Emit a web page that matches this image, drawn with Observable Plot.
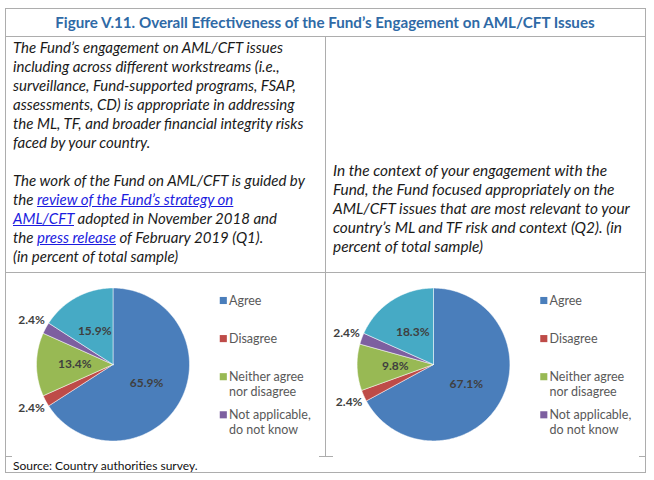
<!DOCTYPE html>
<html>
<head>
<meta charset="utf-8">
<script src="https://cdn.jsdelivr.net/npm/d3@7"></script>
<script src="https://cdn.jsdelivr.net/npm/@observablehq/plot@0.6"></script>
<style>
  html, body { margin: 0; padding: 0; background: #fff; }
  #fig { position: relative; width: 654px; height: 480px; font-family: Lato, "Open Sans", sans-serif; color: #111; overflow: hidden; }
  .ln { position: absolute; background: #ADADAD; z-index: 5; }
  .txt { position: absolute; white-space: nowrap; }
  #title { left: 5px; width: 640px; top: 9px; height: 27px; line-height: 27px; text-align: center; font-weight: bold; color: #2F6AA6; font-size: 15.5px; }
  .para { font-style: italic; line-height: 19px; font-size: 14.5px; color: #1a1a1a; }
  .para a { color: #1c1ce0; text-decoration: underline; }
  #src { left: 13px; top: 458px; font-size: 12px; line-height: 16px; color: #111; }
  .pie { position: absolute; top: 272px; }
</style>
</head>
<body>
<div id="fig">
  <div class="ln" style="left:5px;top:8px;width:641px;height:1px"></div>
  <div class="ln" style="left:5px;top:472px;width:641px;height:1px"></div>
  <div class="ln" style="left:5px;top:8px;width:1px;height:465px"></div>
  <div class="ln" style="left:645px;top:8px;width:1px;height:465px"></div>
  <div class="ln" style="left:5px;top:36px;width:641px;height:1px"></div>
  <div class="ln" style="left:5px;top:272px;width:641px;height:1px"></div>
  <div class="ln" style="left:325px;top:36px;width:1px;height:421px"></div>
  <div class="ln" style="left:5px;top:456px;width:7px;height:1px"></div>
  <div class="ln" style="left:319px;top:456px;width:14px;height:1px"></div>
  <div class="ln" style="left:639px;top:456px;width:7px;height:1px"></div>

  <div id="title" class="txt"><span id="titleSpan"></span></div>
  <div id="p1" class="txt para" style="left:13px;top:38px"></div>
  <div id="p2" class="txt para" style="left:333px;top:161px"></div>
  <div id="src" class="txt"></div>
  <div id="pie1" class="pie" style="left:0px"></div>
  <div id="pie2" class="pie" style="left:325px"></div>
</div>
<script>
// ---------- data ----------
const titleText = "Figure V.11. Overall Effectiveness of the Fund’s Engagement on AML/CFT Issues";
const sourceText = "Source: Country authorities survey.";
const q1Html = [
  "The Fund’s engagement on AML/CFT issues",
  "including across different workstreams (i.e.,",
  "surveillance, Fund-supported programs, FSAP,",
  "assessments, CD) is appropriate in addressing",
  "the ML, TF, and broader financial integrity risks",
  "faced by your country.",
  "",
  "The work of the Fund on AML/CFT is guided by",
  "the <a>review of the Fund’s strategy on</a>",
  "<a>AML/CFT</a> adopted in November 2018 and",
  "the <a>press release</a> of February 2019 (Q1).",
  "(in percent of total sample)"
];
const q2Lines = [
  "In the context of your engagement with the",
  "Fund, the Fund focused appropriately on the",
  "AML/CFT issues that are most relevant to your",
  "country’s ML and TF risk and context (Q2). (in",
  "percent of total sample)"
];
const categories = ["Agree", "Disagree", "Neither agree nor disagree", "Not applicable, do not know", "Unlabelled"];
const legendLabels = [["Agree"], ["Disagree"], ["Neither agree", "nor disagree"], ["Not applicable,", "do not know"]];
const q1Values = [65.9, 2.4, 13.4, 2.4, 15.9];
const q2Values = [67.1, 2.4, 9.8, 2.4, 18.3];
const colors = ["#4A7EBB", "#BE4B48", "#98B954", "#7D5FA0", "#46AAC5"];

// ---------- text ----------
document.getElementById("titleSpan").textContent = titleText;
document.getElementById("src").textContent = sourceText;
document.getElementById("p1").innerHTML = q1Html.map(s => s === "" ? "&nbsp;" : s).join("<br>");
document.getElementById("p2").innerHTML = q2Lines.join("<br>");

function fitPara(id, target) {
  const el = document.getElementById(id);
  const fs = parseFloat(getComputedStyle(el).fontSize);
  const lines = el.innerHTML.split("<br>");
  let maxW = 0;
  const tmp = document.createElement("div");
  tmp.className = el.className;
  tmp.style.position = "absolute"; tmp.style.visibility = "hidden";
  tmp.style.fontSize = fs + "px";
  document.body.appendChild(tmp);
  for (const l of lines) { tmp.innerHTML = l; maxW = Math.max(maxW, tmp.getBoundingClientRect().width); }
  tmp.remove();
  el.style.fontSize = (fs * target / maxW) + "px";
}
function fitTitle(target) {
  const el = document.getElementById("title");
  const sp = document.getElementById("titleSpan");
  const fs = parseFloat(getComputedStyle(el).fontSize);
  const w = sp.getBoundingClientRect().width;
  el.style.fontSize = (fs * target / w) + "px";
}

// ---------- pies ----------
function pieChart(values, W, H, cx, cy, r, legX, textX) {
  const arcs = d3.pie().sort(null).value(d => d)(values);
  const slices = [];
  arcs.forEach((a, i) => {
    const n = Math.max(2, Math.ceil((a.endAngle - a.startAngle) / (Math.PI / 180)));
    slices.push({k: i, cat: categories[i], x: cx, y: cy});
    for (let j = 0; j <= n; j++) {
      const t = a.startAngle + (a.endAngle - a.startAngle) * j / n;
      slices.push({k: i, cat: categories[i], x: cx + r * Math.sin(t), y: cy - r * Math.cos(t)});
    }
    slices.push({k: i, cat: categories[i], x: cx, y: cy});
  });
  const labels = arcs.map((a, i) => {
    const m = (a.startAngle + a.endAngle) / 2;
    const f = values[i] < 5 ? 1.21 : 0.5;
    return {x: cx + f * r * Math.sin(m), y: cy - f * r * Math.cos(m), text: values[i].toFixed(1) + "%"};
  });
  const legend = [];
  const legendText = [];
  legendLabels.forEach((lines, i) => {
    const y0 = 28 + i * 38.1;
    legend.push({cat: categories[i], x: legX, y: y0});
    lines.forEach((t, j) => legendText.push({x: textX, y: y0 + j * 15.2, text: t}));
  });
  return Plot.plot({
    width: W, height: H, margin: 0,
    style: {background: "transparent", fontFamily: "Lato, sans-serif", overflow: "visible"},
    x: {domain: [0, W], range: [0, W], axis: null},
    y: {domain: [0, H], range: [0, H], axis: null},
    color: {type: "ordinal", domain: categories, range: colors},
    marks: [
      Plot.line(slices, {x: "x", y: "y", z: "k", fill: "cat", stroke: "white", strokeWidth: 0.5, curve: "linear"}),
      Plot.text(labels, {x: "x", y: "y", text: "text", fontWeight: "bold", fontSize: 12, fill: "#3F3F3F"}),
      Plot.dot(legend, {x: "x", y: "y", fill: "cat", symbol: "square", r: 4, stroke: null}),
      Plot.text(legendText, {x: "x", y: "y", text: "text", textAnchor: "start", fontSize: 12.5, fill: "#595959"})
    ]
  });
}

document.getElementById("pie1").appendChild(pieChart(q1Values, 325, 184, 112.5, 92, 76.5, 222.8, 228.5));
document.getElementById("pie2").appendChild(pieChart(q2Values, 329, 184, 108, 92, 76.4, 218.3, 224));

fitTitle(540);
fitPara("p1", 292);
fitPara("p2", 290);
</script>
</body>
</html>
